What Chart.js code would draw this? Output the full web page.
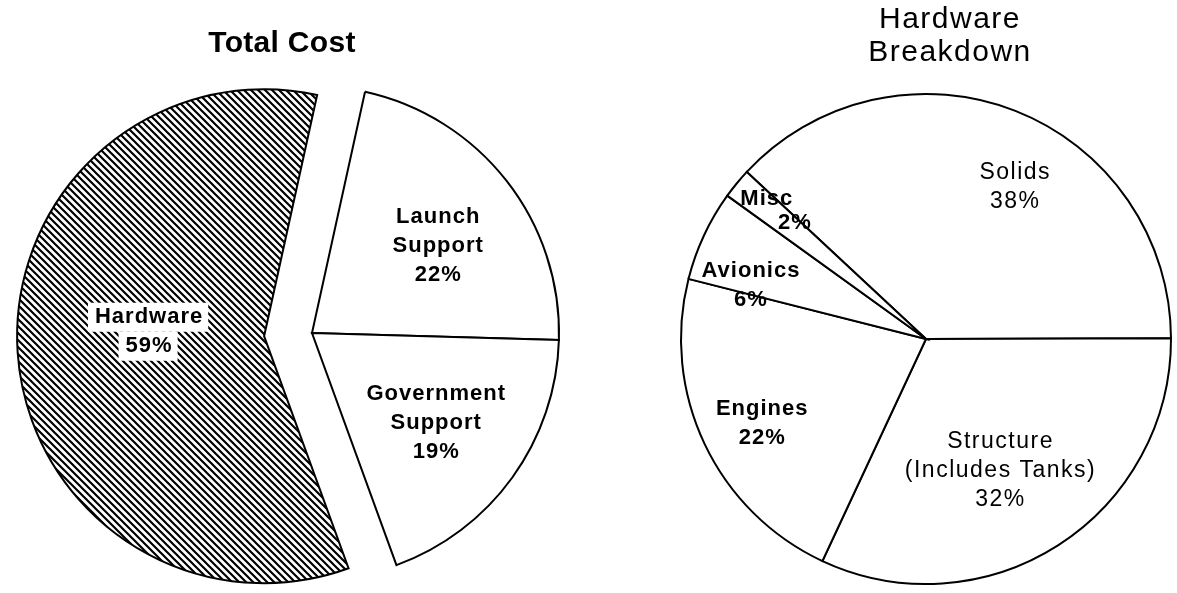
<!DOCTYPE html>
<html lang="en">

<head>
    <meta charset="UTF-8">
    <title>Total Cost and Hardware Breakdown</title>
    <script src="https://cdn.jsdelivr.net/npm/chart.js"></script>
    <style>
        body {
            margin: 0;
            padding: 0;
            background: #fff;
            font-family: "Liberation Sans", Arial, sans-serif;
        }

        .wrap {
            position: relative;
            width: 1177px;
            height: 593px;
            overflow: hidden;
        }

        .wrap canvas {
            position: absolute;
            top: 0;
        }

        .title {
            position: absolute;
            width: 300px;
            text-align: center;
            font-size: 30px;
            line-height: 33px;
            color: #000;
        }
    </style>
</head>

<body>
    <div class="wrap">
        <canvas id="totalChart" width="600" height="593" style="left:0"></canvas>
        <canvas id="hardwareChart" width="577" height="593" style="left:600px"></canvas>
        <div class="title" style="left:132px; top:25px; font-weight:bold; letter-spacing:0.3px;">Total Cost</div>
        <div class="title" style="left:800px; top:1px; letter-spacing:1.5px;">Hardware<br>Breakdown</div>
    </div>

    <script>
        // Data
        const totalLabels = [['Hardware'], ['Launch', 'Support'], ['Government', 'Support']];
        const totalValues = [59, 22, 19];

        const hardwareLabels = [['Solids'], ['Structure', '(Includes Tanks)'], ['Engines'], ['Avionics'], ['Misc']];
        const hardwareValues = [38, 32, 22, 6, 2];

        // Diagonal hatch for the hardware slice
        function makeHatch() {
            const c = document.createElement('canvas');
            c.width = 7;
            c.height = 7;
            const g = c.getContext('2d');
            g.strokeStyle = '#000';
            g.lineWidth = 2.2;
            g.beginPath();
            g.moveTo(-1, -1); g.lineTo(8, 8);
            g.moveTo(6, -1); g.lineTo(8, 1);
            g.moveTo(-1, 6); g.lineTo(1, 8);
            g.stroke();
            return g.createPattern(c, 'repeat');
        }

        // Pulls chosen slices out along their mid angle (exploded pie)
        function explode(dist) {
            return {
                id: 'explode',
                afterDatasetsUpdate(chart) {
                    chart.getDatasetMeta(0).data.forEach((arc, i) => {
                        if (!dist[i]) return;
                        const mid = (arc.startAngle + arc.endAngle) / 2;
                        arc.x += Math.cos(mid) * dist[i];
                        arc.y += Math.sin(mid) * dist[i];
                    });
                }
            };
        }

        // Draws the text of each slice, placed relative to the slice's own geometry
        function sliceLabels(cfg) {
            return {
                id: 'sliceLabels',
                afterDatasetsDraw(chart) {
                    const ctx = chart.ctx;
                    const meta = chart.getDatasetMeta(0);
                    const values = chart.data.datasets[0].data;
                    meta.data.forEach((arc, i) => {
                        const p = cfg.placement[i];
                        const mid = (arc.startAngle + arc.endAngle) / 2;
                        const a = mid + p.da * Math.PI / 180;
                        const cx = arc.x + Math.cos(a) * arc.outerRadius * p.r;
                        const cy = arc.y + Math.sin(a) * arc.outerRadius * p.r;

                        const lines = [].concat(chart.data.labels[i], values[i] + '%');
                        const bold = cfg.bold[i];
                        const gap = p.gap || 29;
                        const shift = p.shift || 0;

                        ctx.save();
                        ctx.font = bold ? 'bold 22px "Liberation Sans", Arial, sans-serif'
                            : '23px "Liberation Sans", Arial, sans-serif';
                        ctx.letterSpacing = bold ? '1px' : '1.5px';
                        ctx.textAlign = 'center';
                        ctx.textBaseline = 'middle';

                        const pos = lines.map((t, k) => ({
                            t,
                            x: cx + (k - (lines.length - 1) / 2) * shift,
                            y: cy + (k - (lines.length - 1) / 2) * gap
                        }));

                        if (cfg.knockout && cfg.knockout[i]) {
                            ctx.fillStyle = '#fff';
                            pos.forEach(l => {
                                const w = ctx.measureText(l.t).width;
                                ctx.fillRect(l.x - w / 2 - 7, l.y - gap / 2, w + 12, gap);
                            });
                        }
                        ctx.fillStyle = '#000';
                        pos.forEach(l => ctx.fillText(l.t, l.x, l.y));
                        ctx.restore();
                    });
                }
            };
        }

        const common = {
            responsive: false,
            animation: false,
            events: [],
            plugins: {
                legend: { display: false },
                tooltip: { enabled: false },
                title: { display: false }
            }
        };

        // Left pie: total cost, hardware exploded
        new Chart(document.getElementById('totalChart'), {
            type: 'pie',
            data: {
                labels: totalLabels,
                datasets: [{
                    data: totalValues,
                    backgroundColor: [makeHatch(), '#fff', '#fff'],
                    borderColor: '#000',
                    borderWidth: 2,
                    borderJoinStyle: 'miter'
                }]
            },
            options: {
                ...common,
                radius: 247,
                rotation: 160,
                layout: { padding: { left: 24, right: 0, top: 73, bottom: 0 } }
            },
            plugins: [
                explode([48, 0, 0]),
                sliceLabels({
                    placement: [
                        { r: 0.466, da: 6 },
                        { r: 0.62, da: 3.5 },
                        { r: 0.62, da: 0 }
                    ],
                    bold: [true, true, true],
                    knockout: [true, false, false]
                })
            ]
        });

        // Right pie: hardware breakdown
        new Chart(document.getElementById('hardwareChart'), {
            type: 'pie',
            data: {
                labels: hardwareLabels,
                datasets: [{
                    data: hardwareValues,
                    backgroundColor: '#fff',
                    borderColor: '#000',
                    borderWidth: 2,
                    borderJoinStyle: 'miter'
                }]
            },
            options: {
                ...common,
                radius: 245,
                rotation: -47,
                layout: { padding: { left: 75, right: 0, top: 85, bottom: 0 } }
            },
            plugins: [
                sliceLabels({
                    placement: [
                        { r: 0.72, da: 9 },
                        { r: 0.616, da: 3 },
                        { r: 0.753, da: -2 },
                        { r: 0.747, da: -8 },
                        { r: 0.79, da: 2, gap: 24, shift: 28 }
                    ],
                    bold: [false, false, true, true, true]
                })
            ]
        });
    </script>
</body>

</html>
